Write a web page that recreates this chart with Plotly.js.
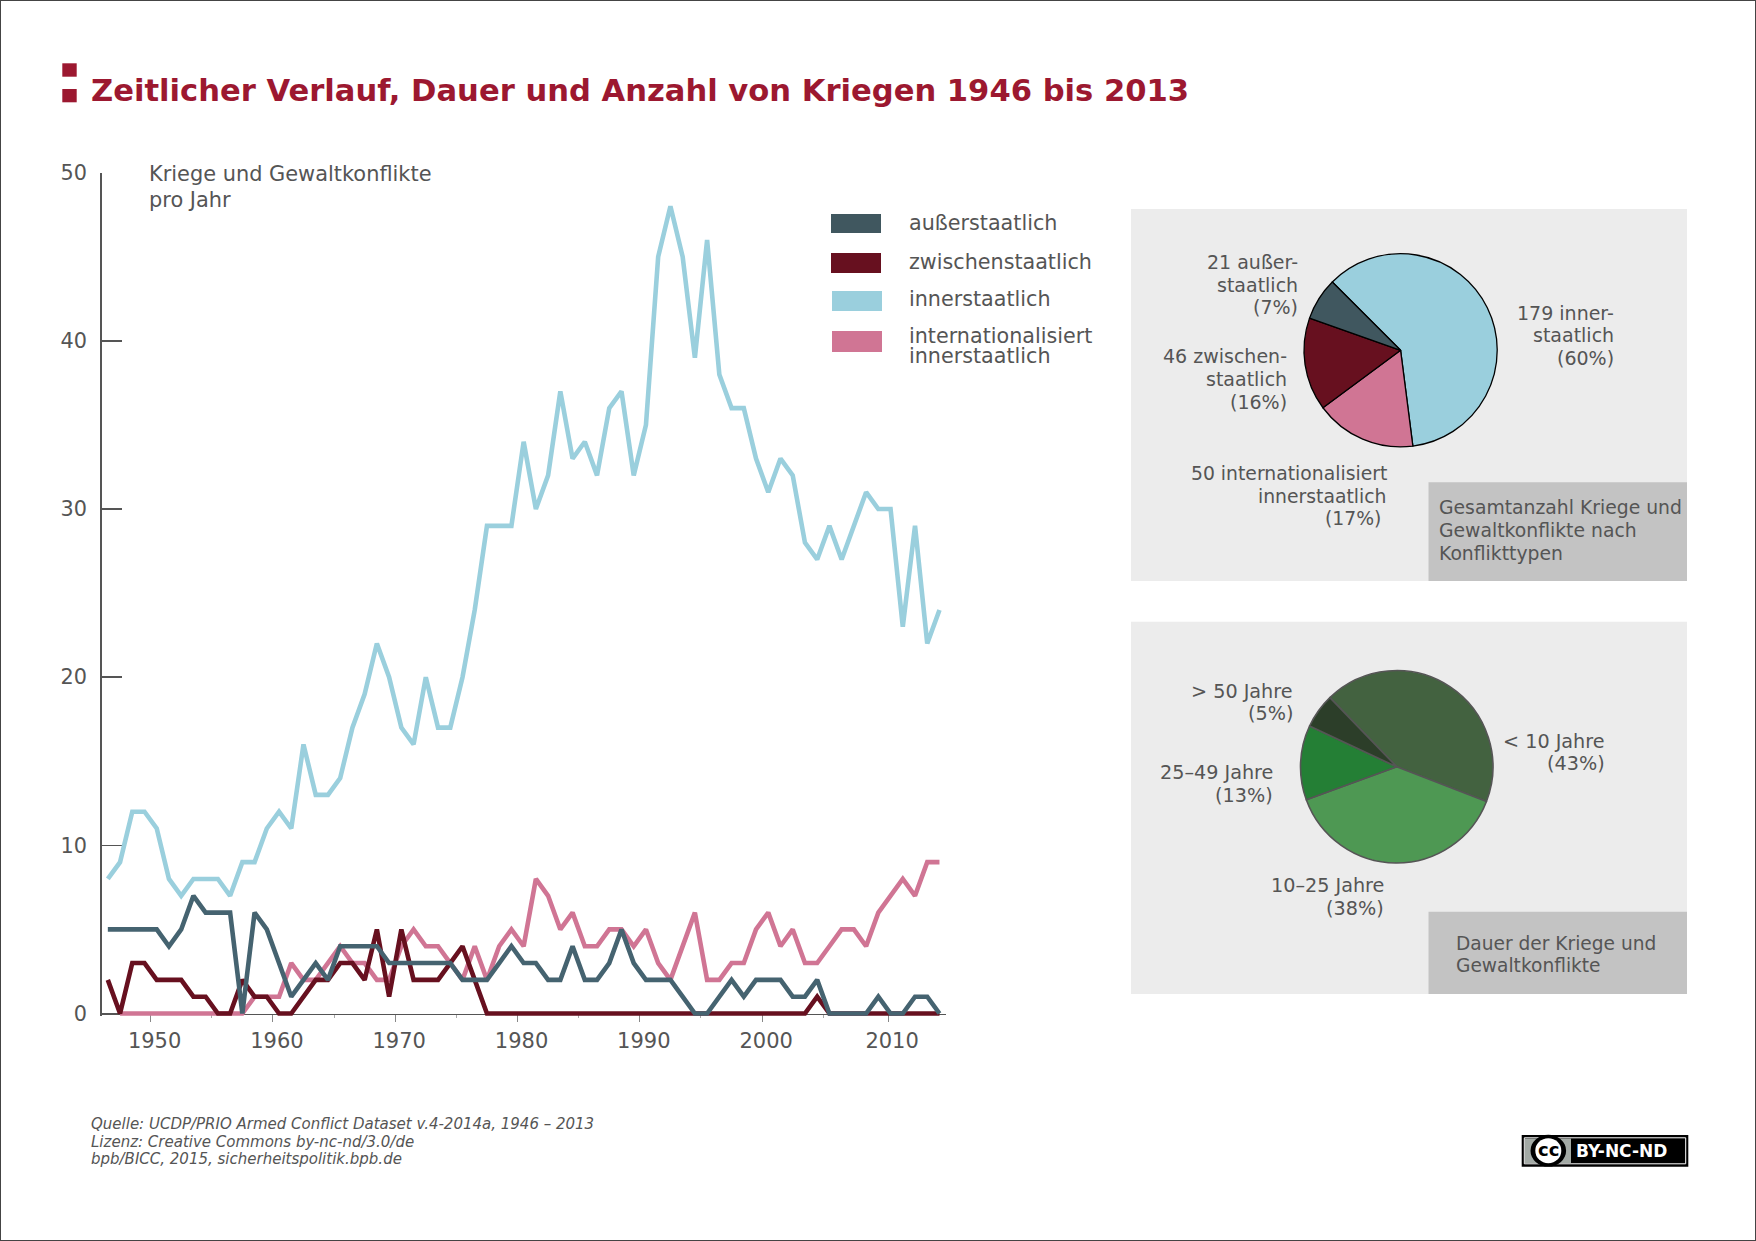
<!DOCTYPE html>
<html><head><meta charset="utf-8">
<script src="https://cdn.plot.ly/plotly-3.0.1.min.js"></script>
<style>html,body{margin:0;padding:0;background:#fff}#chart{width:1756px;height:1241px}</style>
</head><body><div id="chart"></div>
<script>
// Data. The reference plots each point half a year past its tick.
const years = [];
for (let i = 0; i < 69; i++) years.push(1946.5 + i);
const innerstaatlich = [8,9,12,12,11,8,7,8,8,8,7,9,9,11,12,11,16,13,13,14,17,19,22,20,17,16,20,17,17,20,24,29,29,29,34,30,32,37,33,34,32,36,37,32,35,45,48,45,39,46,38,36,36,33,31,33,32,28,27,29,27,29,31,30,30,23,29,22,24];
const internationalisiert = [null,0,0,0,0,0,0,0,0,0,0,0,1,1,1,3,2,2,3,4,3,3,2,2,4,5,4,4,3,2,4,2,4,5,4,8,7,5,6,4,4,5,5,4,5,3,2,4,6,2,2,3,3,5,6,4,5,3,3,4,5,5,4,6,7,8,7,9,9];
const zwischenstaatlich = [2,0,3,3,2,2,2,1,1,0,0,2,1,1,0,0,1,2,2,3,3,2,5,1,5,2,2,2,3,4,2,0,0,0,0,0,0,0,0,0,0,0,0,0,0,0,0,0,0,0,0,0,0,0,0,0,0,0,1,0,0,0,0,0,0,0,0,0,0];
const ausserstaatlich = [5,5,5,5,5,4,5,7,6,6,6,0,6,5,3,1,2,3,2,4,4,4,4,3,3,3,3,3,3,2,2,2,3,4,3,3,2,2,4,2,2,3,5,3,2,2,2,1,0,0,1,2,1,2,2,2,1,1,2,0,0,0,0,1,0,0,1,1,0];
const xTickVals = [1950,1960,1970,1980,1990,2000,2010.3];
const xTickText = ['1950','1960','1970','1980','1990','2000','2010'];
const xMinorVals = [1955,1965,1975,1985,1995,2005];
const yTickVals = [0,10,20,30,40,50];

const typeLabels = ['179 innerstaatlich','50 internationalisiert innerstaatlich','46 zwischenstaatlich','21 außerstaatlich'];
const typeValues = [179,50,46,21];
const durationLabels = ['< 10 Jahre','10–25 Jahre','25–49 Jahre','> 50 Jahre'];
const durationValues = [43,38.5,12.5,5.8];

const C = {teal:'#456370', tealLegend:'#40575f', red:'#67101f', blue:'#9acfdd', pink:'#d07594', text:'#555555', title:'#9c1830', panel:'#ececec', box:'#c3c3c3'};
const W = 1756, H = 1241;
const px = v => v / W, py = v => 1 - v / H;
const FONT = '"DejaVu Sans", Verdana, sans-serif';
// Plot area: value 0 sits at Y0, value 50 at Y50. A small slack below 0 keeps the full width of the
// lines that run along zero from being clipped; the x axis itself stays pinned at value 0.
const Y0 = 1013.5, Y50 = 172.7, SLACK = 0.16;
const yBottom = Y0 + SLACK * (Y0 - Y50) / 50;

function note(text, x, y, anchor, size, extra) {
  return Object.assign({text, x:px(x), y:py(y), xref:'paper', yref:'paper', xanchor:anchor, yanchor:'middle',
    align:anchor, showarrow:false, borderpad:0, font:{family:FONT, size, color:C.text}}, extra || {});
}
// One annotation per line, so the leading can follow the reference rather than Plotly's fixed 1.3 em.
function block(rows, x, yMid, anchor, size, leading) {
  const top = yMid - leading * (rows.length - 1) / 2;
  return rows.map((t, i) => note(t, x, top + i * leading, anchor, size));
}
function rect(x0, y0, x1, y1, fill, lineColor, lineWidth, type) {
  return {type:type || 'rect', xref:'paper', yref:'paper', x0:px(x0), x1:px(x1), y0:py(y0), y1:py(y1),
    fillcolor:fill, line:{color:lineColor || fill, width:lineWidth === undefined ? 0 : lineWidth}, layer:'below'};
}
function series(y, color, name) {
  return {type:'scatter', mode:'lines', x:years, y, name, cliponaxis:false, connectgaps:false,
    line:{color, width:4.6, shape:'linear'}};
}
function pie(labels, values, colors, cx, cy, r, rotation, lineColor, lineWidth) {
  return {type:'pie', labels, values, sort:false, direction:'clockwise', rotation, textinfo:'none',
    marker:{colors, line:{color:lineColor, width:lineWidth}},
    domain:{x:[px(cx - r), px(cx + r)], y:[py(cy + r), py(cy - r)]}};
}

const traces = [
  series(innerstaatlich, C.blue, 'innerstaatlich'),
  series(internationalisiert, C.pink, 'internationalisiert innerstaatlich'),
  series(zwischenstaatlich, C.red, 'zwischenstaatlich'),
  series(ausserstaatlich, C.teal, 'außerstaatlich'),
  pie(typeLabels, typeValues, [C.blue, C.pink, '#67101f', C.tealLegend], 1400.6, 350.3, 96.6, 315, '#000000', 1.3),
  pie(durationLabels, durationValues, ['#436240','#4e9853','#247f35','#2c3e29'], 1396.7, 766.8, 96.2, 316, '#555555', 1.6)
];

const shapes = [
  rect(0, 0, W, H, 'rgba(0,0,0,0)', '#444444', 2),
  rect(62.3, 63.3, 76.7, 76.7, C.title),
  rect(62.3, 89, 76.7, 102.3, C.title),
  rect(831, 214, 881, 233, C.tealLegend),
  rect(831, 253, 881, 273, C.red),
  rect(832, 291, 882, 311, C.blue),
  rect(832, 331, 882, 352, C.pink),
  rect(1131, 209, 1687, 581, C.panel),
  rect(1428.5, 482.3, 1687, 581, C.box),
  rect(1131, 621.7, 1687, 994, C.panel),
  rect(1428.5, 911.7, 1687, 994, C.box),
  // CC badge
  rect(1521.7, 1135, 1688.3, 1166.7, '#000000'),
  rect(1524.3, 1137.8, 1685.7, 1163.8, '#000000', '#ffffff', 1),
  rect(1525, 1138.5, 1571, 1163, '#a3aaa5'),
  rect(1530.5, 1134.8, 1566.1, 1166.6, '#000000', '#000000', 0, 'circle'),
  rect(1535.3, 1138.2, 1561.3, 1163.2, '#ffffff', '#ffffff', 0, 'circle')
];

const annotations = [
  note('<b>Zeitlicher Verlauf, Dauer und Anzahl von Kriegen 1946 bis 2013</b>', 89.7, 90.5, 'left', 30.6, {font:{family:FONT, size:30.6, color:C.title}}),
  ...block(['Kriege und Gewaltkonflikte','pro Jahr'], 147.5, 186.8, 'left', 20.9, 25.7),
  note('außerstaatlich', 907.5, 223.3, 'left', 20.7),
  note('zwischenstaatlich', 907.5, 262.3, 'left', 20.7),
  note('innerstaatlich', 907.5, 299.3, 'left', 20.7),
  note('internationalisiert', 907.5, 336.5, 'left', 20.7),
  note('innerstaatlich', 907.5, 355.5, 'left', 20.7),
  ...block(['21 außer-','staatlich','(7%)'], 1298.5, 284.5, 'right', 19, 22.6),
  ...block(['179 inner-','staatlich','(60%)'], 1614.5, 335.5, 'right', 19, 22.4),
  ...block(['46 zwischen-','staatlich','(16%)'], 1287.5, 379, 'right', 19, 22.6),
  ...block(['50 internationalisiert','innerstaatlich','(17%)\u00a0'], 1387.5, 496, 'right', 18.8, 22.6),
  ...block(['Gesamtanzahl Kriege und','Gewaltkonflikte nach','Konflikttypen'], 1437.5, 530.5, 'left', 18.8, 22.6),
  ...block(['> 50 Jahre','(5%)'], 1294, 702.5, 'right', 19.2, 22.6),
  ...block(['< 10 Jahre','(43%)'], 1606, 752.5, 'right', 19.2, 22.6),
  ...block(['25–49 Jahre','(13%)'], 1274, 784, 'right', 19.2, 22.6),
  ...block(['10–25 Jahre','(38%)'], 1384.5, 897, 'right', 19.2, 22.6),
  ...block(['Dauer der Kriege und','Gewaltkonflikte'], 1455, 954.5, 'left', 18.6, 22.8),
  ...block(['<i>Quelle: UCDP/PRIO Armed Conflict Dataset v.4-2014a, 1946 – 2013</i>','<i>Lizenz: Creative Commons by-nc-nd/3.0/de</i>','<i>bpb/BICC, 2015, sicherheitspolitik.bpb.de</i>'], 89.8, 1141.5, 'left', 15, 17.5),
  note('<b>cc</b>', 1548.3, 1149.5, 'center', 18, {font:{family:FONT, size:18, color:'#000000'}}),
  note('<b>BY-NC-ND</b>', 1575, 1151, 'left', 17, {font:{family:FONT, size:17, color:'#ffffff'}})
];

const layout = {
  width:W, height:H, margin:{l:0,r:0,t:0,b:0}, paper_bgcolor:'#ffffff', plot_bgcolor:'rgba(0,0,0,0)',
  showlegend:false, font:{family:FONT, color:C.text},
  xaxis:{domain:[px(101.7), px(945.6)], range:[1946,2015], anchor:'free', position:py(Y0), layer:'below traces',
    tickmode:'array', tickvals:xTickVals, ticktext:xTickText,
    ticks:'outside', ticklen:7, tickwidth:1, tickcolor:'#888888', showgrid:false, zeroline:false,
    showline:true, linecolor:'#555555', linewidth:1.5, tickfont:{family:FONT, size:21, color:C.text}, ticklabelstandoff:1, ticklabelshift:4,
    minor:{tickmode:'array', tickvals:xMinorVals, ticks:'outside', ticklen:3, tickwidth:1, tickcolor:'#aaaaaa', showgrid:false}},
  yaxis:{domain:[py(yBottom), py(Y50)], range:[-SLACK,50], tickmode:'array', tickvals:yTickVals, layer:'below traces',
    ticks:'inside', ticklen:20, tickwidth:1.5, tickcolor:'#555555', showgrid:false, zeroline:false,
    showline:true, linecolor:'#555555', linewidth:1.5, tickfont:{family:FONT, size:20.8, color:C.text}, ticklabelstandoff:9},
  shapes, annotations
};
Plotly.newPlot('chart', traces, layout, {displayModeBar:false, staticPlot:true});
</script></body></html>
